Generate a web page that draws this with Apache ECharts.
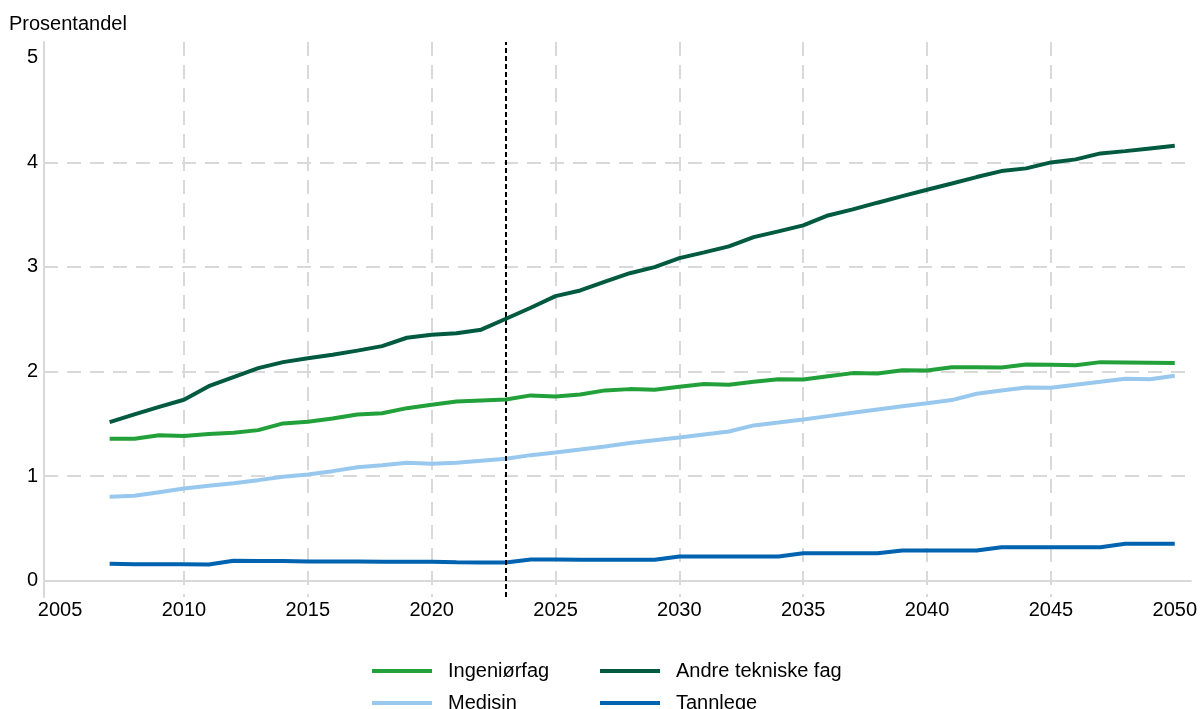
<!DOCTYPE html>
<html>
<head>
<meta charset="utf-8">
<script src="https://cdn.jsdelivr.net/npm/echarts@6/dist/echarts.min.js"></script>
<style>
html,body{margin:0;padding:0;background:#fff;}
#chart{width:1200px;height:709px;}
</style>
</head>
<body>
<div id="chart"></div>
<script>
const years = [2007,2008,2009,2010,2011,2012,2013,2014,2015,2016,2017,2018,2019,2020,2021,2022,2023,2024,2025,2026,2027,2028,2029,2030,2031,2032,2033,2034,2035,2036,2037,2038,2039,2040,2041,2042,2043,2044,2045,2046,2047,2048,2049,2050];

const ingeniorfag = [1.357,1.357,1.392,1.383,1.402,1.415,1.44,1.504,1.52,1.552,1.59,1.602,1.65,1.683,1.714,1.724,1.733,1.772,1.762,1.781,1.82,1.832,1.826,1.855,1.88,1.874,1.902,1.927,1.924,1.956,1.985,1.982,2.013,2.01,2.042,2.042,2.039,2.068,2.065,2.061,2.09,2.087,2.084,2.081];

const andreTekniske = [1.516,1.59,1.663,1.73,1.86,1.947,2.033,2.09,2.128,2.16,2.2,2.243,2.323,2.352,2.367,2.4,2.505,2.61,2.721,2.775,2.86,2.94,2.998,3.084,3.139,3.196,3.285,3.34,3.397,3.492,3.55,3.614,3.677,3.738,3.798,3.859,3.916,3.942,3.999,4.028,4.085,4.107,4.133,4.159];

const medisin = [0.803,0.812,0.847,0.882,0.908,0.933,0.962,0.994,1.016,1.048,1.086,1.105,1.128,1.118,1.128,1.147,1.166,1.201,1.227,1.255,1.284,1.316,1.344,1.37,1.399,1.427,1.485,1.513,1.542,1.574,1.606,1.638,1.669,1.698,1.727,1.788,1.819,1.848,1.845,1.874,1.902,1.931,1.927,1.96];

const tannlege = [0.162,0.159,0.159,0.159,0.156,0.191,0.188,0.188,0.185,0.185,0.185,0.182,0.182,0.182,0.178,0.175,0.175,0.204,0.204,0.201,0.201,0.201,0.201,0.232,0.232,0.232,0.232,0.232,0.264,0.264,0.264,0.264,0.29,0.29,0.29,0.29,0.321,0.321,0.321,0.321,0.321,0.354,0.354,0.354];

const xTickLabels = [2005,2010,2015,2020,2025,2030,2035,2040,2045,2050];
const xGridTicks = [2010,2015,2020,2025,2030,2035,2040,2045];
const yTickLabels = [0,1,2,3,4,5];
const yGridTicks = [1,2,3,4];
const forecastStart = 2023;

const names = ['Ingeniørfag','Andre tekniske fag','Medisin','Tannlege'];
const colors = ['#22a03a','#005a3f','#99c8ee','#0063b0'];
const seriesData = [ingeniorfag, andreTekniske, medisin, tannlege];

const FONT = '"Liberation Sans", Arial, Helvetica, sans-serif';
const gridColor = '#d9d9d9';

const X_MIN = 2004.35, X_MAX = 2050.65, Y_MIN = -0.155, Y_MAX = 5.15;

const series = names.map((n, i) => ({
  name: n,
  type: 'line',
  xAxisIndex: 0,
  yAxisIndex: 0,
  data: years.map((y, k) => [y, seriesData[i][k]]),
  showSymbol: false,
  symbol: 'none',
  color: colors[i],
  lineStyle: { width: 4, color: colors[i] },
  z: 3 + (3 - i),
  animation: false
}));

series[0].markLine = {
  silent: true,
  symbol: 'none',
  label: { show: false },
  lineStyle: { color: '#000', type: [5, 3], width: 2 },
  data: [[{ coord: [forecastStart, Y_MIN] }, { coord: [forecastStart, Y_MAX] }]],
  animation: false
};

const legendCommon = {
  orient: 'horizontal', padding: 0,
  icon: 'rect', itemWidth: 60, itemHeight: 4,
  textStyle: { fontFamily: FONT, fontSize: 20, color: '#000', lineHeight: 16, padding: [0, 0, 0, 11] },
  selectedMode: false
};
const legendPos = [
  { left: 372, top: 661 },
  { left: 600, top: 661 },
  { left: 372, top: 693 },
  { left: 600, top: 693 }
];

const chart = echarts.init(document.getElementById('chart'), null, { renderer: 'canvas' });
chart.setOption({
  backgroundColor: '#fff',
  animation: false,
  title: {
    text: 'Prosentandel',
    left: 9,
    top: 14,
    padding: 0,
    textStyle: { fontFamily: FONT, fontSize: 20, fontWeight: 'normal', color: '#000' }
  },
  grid: { left: 44, right: 7, top: 42, bottom: 112, containLabel: false },
  xAxis: [
    {
      type: 'value', min: X_MIN, max: X_MAX,
      axisLine: { show: true, lineStyle: { color: gridColor, width: 2 } },
      axisTick: { show: false, customValues: xTickLabels },
      axisLabel: { customValues: xTickLabels, fontFamily: FONT, fontSize: 20, color: '#000', margin: 3,
                   formatter: v => String(Math.round(v)) },
      splitLine: { show: false }
    },
    {
      type: 'value', min: X_MIN, max: X_MAX, position: 'top',
      axisLine: { show: false }, axisTick: { show: false, customValues: xGridTicks },
      axisLabel: { show: false, customValues: xGridTicks },
      splitLine: { show: true, lineStyle: { color: gridColor, width: 2, type: [14, 9] } }
    }
  ],
  yAxis: [
    {
      type: 'value', min: Y_MIN, max: Y_MAX,
      axisLine: { show: true, lineStyle: { color: gridColor, width: 2 } },
      axisTick: { show: false, customValues: yTickLabels },
      axisLabel: { customValues: yTickLabels, fontFamily: FONT, fontSize: 20, color: '#000', margin: 6,
                   formatter: v => String(Math.round(v)) },
      splitLine: { show: false }
    },
    {
      type: 'value', min: Y_MIN, max: Y_MAX, position: 'right',
      axisLine: { show: false }, axisTick: { show: false, customValues: yGridTicks },
      axisLabel: { show: false, customValues: yGridTicks },
      splitLine: { show: true, lineStyle: { color: gridColor, width: 2, type: [14, 9] } }
    }
  ],
  legend: names.map((n, i) => Object.assign({}, legendCommon, legendPos[i], { data: [n] })),
  series: series
});
</script>
</body>
</html>
